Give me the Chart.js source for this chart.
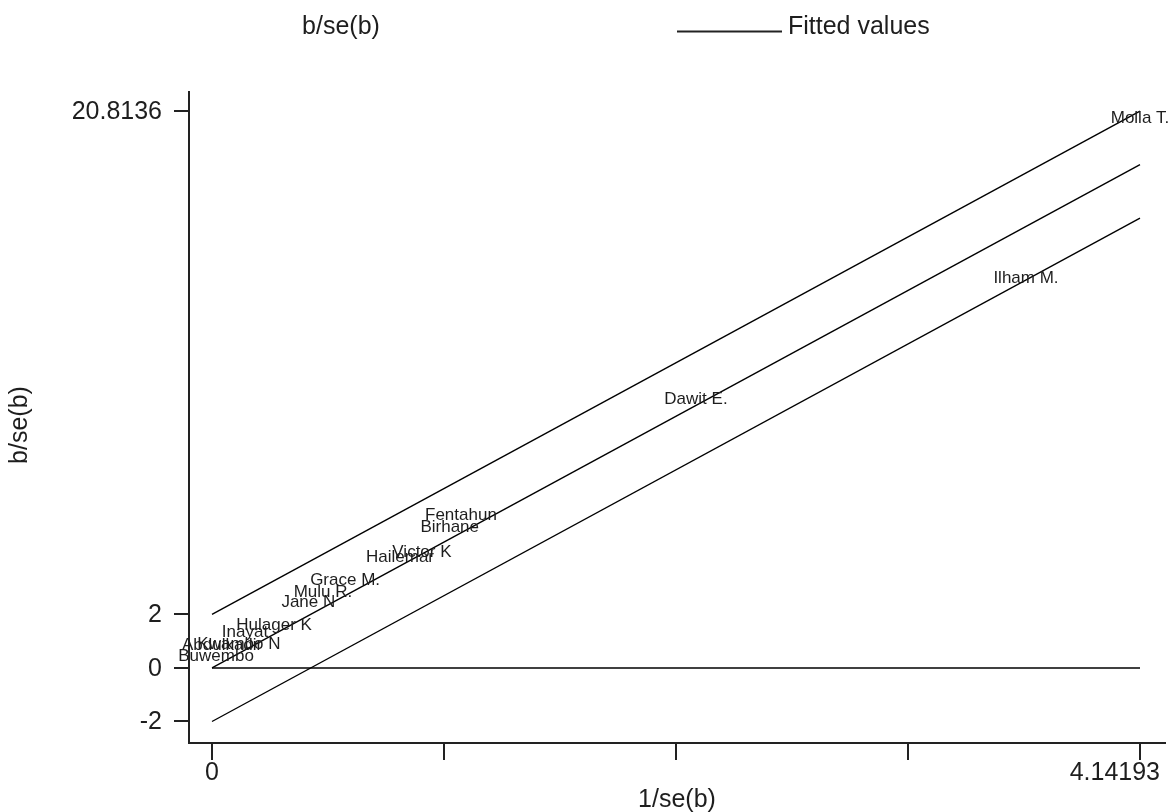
<!DOCTYPE html>
<html>
<head>
<meta charset="utf-8">
<script src="https://cdn.jsdelivr.net/npm/chart.js@4.4.1/dist/chart.umd.min.js"></script>
<style>
  html, body { margin: 0; padding: 0; background: #fff; }
  #wrap { width: 1169px; height: 812px; position: relative; }
</style>
</head>
<body>
<div id="wrap"><canvas id="c" width="1169" height="812"></canvas></div>
<script>
// ---- data ----
const studyNames = ["Molla T.", "Ilham M.", "Dawit E.", "Fentahun", "Birhane", "Victor K",
  "Hailemar", "Grace M.", "Mulu R.", "Jane N", "Hulager K", "Inayat",
  "Abdulkadir", "Kwambo N", "Buwembo"];
const invSE = [4.14193, 3.633, 2.160, 1.111, 1.061, 0.937,
  0.839, 0.594, 0.495, 0.430, 0.277, 0.147,
  0.045, 0.120, 0.018];
const zStat = [20.56, 14.58, 10.06, 5.72, 5.27, 4.34,
  4.15, 3.29, 2.84, 2.47, 1.61, 1.35,
  0.86, 0.90, 0.45];

const lineX = [0, 4.14193];
const fittedY = [0, 18.8136];
const upperY = [2, 20.8136];
const lowerY = [-2, 16.8136];
const zeroY = [0, 0];

const xTickValues = [0, 1.035483, 2.070965, 3.106448, 4.14193];
const xTickLabels = ["0", "", "", "", "4.14193"];
const yTickValues = [-2, 0, 2, 20.8136];
const yTickLabels = ["-2", "0", "2", "20.8136"];

const xTitle = "1/se(b)";
const yTitle = "b/se(b)";
const legendScatter = "b/se(b)";
const legendFit = "Fitted values";

// ---- build ----
const pts = (xs, ys) => xs.map((x, i) => ({ x: x, y: ys[i] }));
const FONT = "'Liberation Sans', Arial, sans-serif";
const INK = "#1e1e1e";

const lineDs = (ys) => ({
  data: pts(lineX, ys), showLine: true, pointRadius: 0,
  borderColor: "#000", borderWidth: 1.4, fill: false
});

const labelPlugin = {
  id: "stataText",
  afterDatasetsDraw(chart) {
    const ctx = chart.ctx;
    const meta = chart.getDatasetMeta(0);
    ctx.save();
    ctx.fillStyle = INK;
    ctx.font = "17px " + FONT;
    ctx.textAlign = "center";
    ctx.textBaseline = "middle";
    meta.data.forEach((el, i) => {
      ctx.fillText(studyNames[i], el.x, el.y);
    });
    ctx.restore();
  },
  afterDraw(chart) {
    const ctx = chart.ctx;
    const xs = chart.scales.x, ys = chart.scales.y;
    const ca = chart.chartArea;
    ctx.save();
    ctx.fillStyle = INK;
    ctx.font = "25px " + FONT;
    // y tick labels
    ctx.textAlign = "right";
    ctx.textBaseline = "middle";
    yTickValues.forEach((v, i) => {
      ctx.fillText(yTickLabels[i], ca.left - 27, ys.getPixelForValue(v) + 1);
    });
    // x tick labels
    ctx.textBaseline = "middle";
    xTickValues.forEach((v, i) => {
      if (!xTickLabels[i]) return;
      const px = xs.getPixelForValue(v);
      if (i === xTickValues.length - 1) {
        ctx.textAlign = "right";
        ctx.fillText(xTickLabels[i], px + 20, ca.bottom + 30);
      } else {
        ctx.textAlign = "center";
        ctx.fillText(xTickLabels[i], px, ca.bottom + 30);
      }
    });
    // axis titles
    ctx.textAlign = "center";
    ctx.fillText(xTitle, 677, ca.bottom + 57);
    ctx.save();
    ctx.translate(20, 425);
    ctx.rotate(-Math.PI / 2);
    ctx.fillText(yTitle, 0, 0);
    ctx.restore();
    // legend
    ctx.textAlign = "center";
    ctx.fillText(legendScatter, 341, 27);
    ctx.strokeStyle = "#222";
    ctx.lineWidth = 2;
    ctx.beginPath();
    ctx.moveTo(677, 31.5);
    ctx.lineTo(782, 31.5);
    ctx.stroke();
    ctx.textAlign = "left";
    ctx.fillText(legendFit, 788, 27);
    ctx.restore();
  }
};

new Chart(document.getElementById("c"), {
  type: "scatter",
  data: {
    datasets: [
      { data: pts(invSE, zStat), pointRadius: 0, showLine: false, borderWidth: 0 },
      lineDs(fittedY),
      lineDs(upperY),
      lineDs(lowerY),
      lineDs(zeroY)
    ]
  },
  options: {
    responsive: false,
    animation: false,
    devicePixelRatio: 1,
    layout: { padding: { left: 174, right: 4, top: 92, bottom: 52 } },
    plugins: { legend: { display: false }, tooltip: { enabled: false } },
    scales: {
      x: {
        type: "linear", min: -0.1027, max: 4.2535,
        afterBuildTicks: (s) => { s.ticks = xTickValues.map(v => ({ value: v })); },
        ticks: { display: false },
        grid: { display: true, drawOnChartArea: false, drawTicks: true, tickLength: 17, color: "#222", lineWidth: 2 },
        border: { display: true, color: "#222", width: 2 }
      },
      y: {
        type: "linear", min: -2.804, max: 21.53,
        afterBuildTicks: (s) => { s.ticks = yTickValues.map(v => ({ value: v })); },
        ticks: { display: false },
        grid: { display: true, drawOnChartArea: false, drawTicks: true, tickLength: 15, color: "#222", lineWidth: 2 },
        border: { display: true, color: "#222", width: 2 }
      }
    }
  },
  plugins: [labelPlugin]
});
</script>
</body>
</html>
